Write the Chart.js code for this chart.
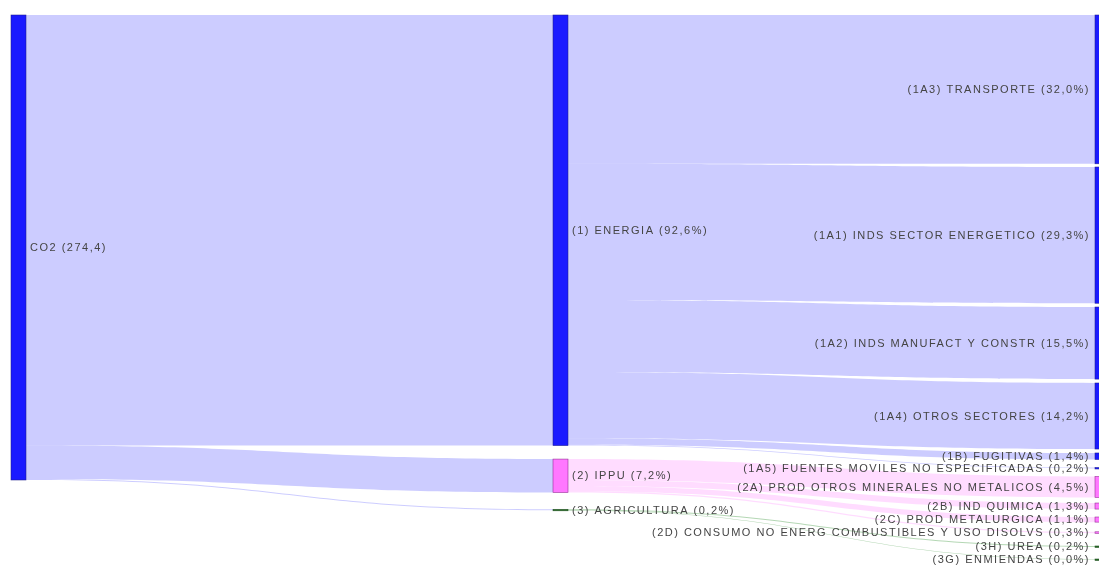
<!DOCTYPE html>
<html lang="es">
<head>
    <meta charset="UTF-8">
    <title>Emisiones de CO2 por sector</title>
    <script src="https://cdn.jsdelivr.net/npm/chart.js"></script>
    <style>
        html, body {
            margin: 0;
            padding: 0;
            background: #fff;
            overflow: hidden;
        }
        .wrap {
            width: 1099px;
            height: 565px;
        }
    </style>
</head>
<body>
    <div class="wrap">
        <canvas id="sankey" width="1099" height="565"></canvas>
    </div>

    <script>
        // Nodes (label, column)
        const nodeLabels = [
            'CO2 (274,4)',
            '(1) ENERGIA (92,6%)',
            '(2) IPPU (7,2%)',
            '(3) AGRICULTURA (0,2%)',
            '(1A3) TRANSPORTE (32,0%)',
            '(1A1) INDS SECTOR ENERGETICO (29,3%)',
            '(1A2) INDS MANUFACT Y CONSTR (15,5%)',
            '(1A4) OTROS SECTORES (14,2%)',
            '(1B) FUGITIVAS (1,4%)',
            '(1A5) FUENTES MOVILES NO ESPECIFICADAS (0,2%)',
            '(2A) PROD OTROS MINERALES NO METALICOS (4,5%)',
            '(2B) IND QUIMICA (1,3%)',
            '(2C) PROD METALURGICA (1,1%)',
            '(2D) CONSUMO NO ENERG COMBUSTIBLES Y USO DISOLVS (0,3%)',
            '(3H) UREA (0,2%)',
            '(3G) ENMIENDAS (0,0%)'
        ];
        const nodeColumn = [0, 1, 1, 1, 2, 2, 2, 2, 2, 2, 2, 2, 2, 2, 2, 2];

        // Links (% of total CO2)
        const linkSource = [0, 0, 0, 1, 1, 1, 1, 1, 1, 2, 2, 2, 2, 3, 3];
        const linkTarget = [1, 2, 3, 4, 5, 6, 7, 8, 9, 10, 11, 12, 13, 14, 15];
        const linkValue = [92.6, 7.2, 0.2, 32.0, 29.3, 15.5, 14.2, 1.4, 0.2, 4.5, 1.3, 1.1, 0.3, 0.2, 0.0];

        // layout: gap above each node inside its column (same units as values)
        const nodeGap = [0, 0, 2.9, 3.6, 0, 0.69, 0.81, 0.84, 0.85, 1.72, 1.74, 1.2, 1.71, 2.08, 2.75, 2.6];

        const palette = {
            blue: { fill: 'rgb(26,26,255)', line: 'rgba(30,30,140,0.9)', link: 'rgba(0,0,255,0.2)' },
            pink: { fill: 'rgb(255,119,255)', line: 'rgba(140,40,140,0.9)', link: 'rgba(255,80,255,0.2)' },
            green: { fill: 'rgb(40,105,40)', line: 'rgba(30,80,30,0.9)', link: 'rgba(40,140,40,0.35)' }
        };
        const nodeColor = ['blue', 'blue', 'pink', 'green', 'blue', 'blue', 'blue', 'blue', 'blue', 'blue',
            'pink', 'pink', 'pink', 'pink', 'green', 'green'];

        const NODE_W = 15;

        // node sizes and stacking
        function buildLayout() {
            const n = nodeLabels.length;
            const inSum = new Array(n).fill(0), outSum = new Array(n).fill(0);
            linkValue.forEach((v, i) => {
                outSum[linkSource[i]] += v;
                inSum[linkTarget[i]] += v;
            });
            const size = inSum.map((v, i) => Math.max(v, outSum[i]));
            const top = [];
            const colEnd = {};
            for (let i = 0; i < n; i++) {
                const c = nodeColumn[i];
                const start = (colEnd[c] || 0) + nodeGap[i];
                top.push(start);
                colEnd[c] = start + size[i];
            }
            return { size, top };
        }

        const sankeyPlugin = {
            id: 'sankey',
            beforeDatasetsDraw(chart) {
                const ctx = chart.ctx;
                const xs = chart.scales.x, ys = chart.scales.y;
                const { top } = buildLayout();
                const outOff = top.slice(), inOff = top.slice();
                ctx.save();
                linkValue.forEach((v, i) => {
                    const s = linkSource[i], t = linkTarget[i];
                    const x0 = xs.getPixelForValue(nodeColumn[s] / 2) + NODE_W;
                    const x1 = xs.getPixelForValue(nodeColumn[t] / 2);
                    const xm = (x0 + x1) / 2;
                    const s0 = ys.getPixelForValue(outOff[s]);
                    const s1 = Math.max(ys.getPixelForValue(outOff[s] + v), s0 + 0.6);
                    const t0 = ys.getPixelForValue(inOff[t]);
                    const t1 = Math.max(ys.getPixelForValue(inOff[t] + v), t0 + 0.6);
                    outOff[s] += v;
                    inOff[t] += v;
                    ctx.beginPath();
                    ctx.moveTo(x0, s0);
                    ctx.bezierCurveTo(xm, s0, xm, t0, x1, t0);
                    ctx.lineTo(x1, t1);
                    ctx.bezierCurveTo(xm, t1, xm, s1, x0, s1);
                    ctx.closePath();
                    ctx.fillStyle = palette[nodeColor[s]].link;
                    ctx.fill();
                });
                ctx.restore();
            },
            afterDatasetsDraw(chart) {
                const ctx = chart.ctx;
                const xs = chart.scales.x, ys = chart.scales.y;
                const { size, top } = buildLayout();
                ctx.save();
                nodeLabels.forEach((label, i) => {
                    const x = xs.getPixelForValue(nodeColumn[i] / 2);
                    const y0 = ys.getPixelForValue(top[i]);
                    let y1 = ys.getPixelForValue(top[i] + size[i]);
                    if (y1 - y0 < 1.5) y1 = y0 + 1.5;
                    const col = palette[nodeColor[i]];
                    ctx.fillStyle = col.fill;
                    ctx.fillRect(x, y0, NODE_W, y1 - y0);
                    ctx.strokeStyle = col.line;
                    ctx.lineWidth = 0.6;
                    ctx.strokeRect(x, y0, NODE_W, y1 - y0);

                    ctx.font = '11px "Liberation Sans", Arial, sans-serif';
                    ctx.letterSpacing = '1.5px';
                    ctx.fillStyle = '#444';
                    ctx.textBaseline = 'middle';
                    const yc = (y0 + y1) / 2 + 0.5;
                    if (nodeColumn[i] === 2) {
                        ctx.textAlign = 'right';
                        ctx.fillText(label, x - 5, yc);
                    } else {
                        ctx.textAlign = 'left';
                        ctx.fillText(label, x + NODE_W + 4, yc);
                    }
                });
                ctx.restore();
            }
        };

        const ctx = document.getElementById('sankey').getContext('2d');
        const chart = new Chart(ctx, {
            type: 'scatter',
            data: { datasets: [{ data: [] }] },
            options: {
                responsive: false,
                animation: false,
                devicePixelRatio: 1,
                layout: { padding: { left: 11, right: 4, top: 15, bottom: 0 } },
                scales: {
                    x: { type: 'linear', min: 0, max: 1, display: false },
                    y: { type: 'linear', min: 0, max: 118.28, reverse: true, display: false }
                },
                plugins: {
                    legend: { display: false },
                    tooltip: { enabled: false }
                }
            },
            plugins: [sankeyPlugin]
        });
    </script>
</body>
</html>
